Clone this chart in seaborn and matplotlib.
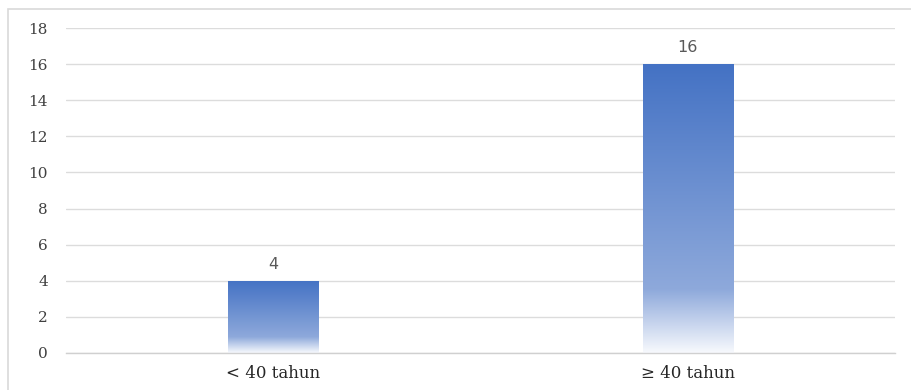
import numpy as np
import pandas as pd
import matplotlib
matplotlib.use("Agg")
import matplotlib.pyplot as plt
import seaborn as sns
from matplotlib.colors import LinearSegmentedColormap
from matplotlib.patches import Rectangle

categories = ["< 40 tahun", "\u2265 40 tahun"]
values = [4, 16]
yticks = [0, 2, 4, 6, 8, 10, 12, 14, 16, 18]

sns.set_theme(style="white")
plt.rcParams['font.family'] = ['DejaVu Serif', 'DejaVu Sans']

df = pd.DataFrame({"cat": categories, "val": values})

W, H = 911, 390
fig = plt.figure(figsize=(W / 100, H / 100), dpi=100)
ax = fig.add_axes([66 / W, 1 - 353 / H, (895 - 66) / W, (353 - 28) / H])

sns.barplot(data=df, x="cat", y="val", ax=ax, color="#4472C4", width=0.218,
            saturation=1, edgecolor="none")

ax.set_ylim(0, 18)
ax.set_xlim(-0.5, 1.5)
ax.set_yticks(yticks)
ax.set_xlabel("")
ax.set_ylabel("")
for s in ["top", "right", "left"]:
    ax.spines[s].set_visible(False)
ax.spines["bottom"].set_color("#D0D0D0")
ax.spines["bottom"].set_linewidth(1.0)
ax.yaxis.grid(True, color="#DCDCDC", linewidth=1.0)
ax.set_axisbelow(True)
ax.tick_params(axis="y", length=0, pad=13, labelsize=11, labelcolor="#404040")
ax.tick_params(axis="x", length=0, pad=9, labelsize=12, labelcolor="#262626")

cmap = LinearSegmentedColormap.from_list(
    "g", [(0.0, "#4472C4"), (0.78, "#8EA9DB"), (1.0, "#F7F9FD")])
grad = np.linspace(0, 1, 256).reshape(-1, 1)

for patch, v in zip(ax.patches, values):
    x0 = patch.get_x()
    w = patch.get_width()
    h = patch.get_height()
    patch.set_facecolor("none")
    im = ax.imshow(grad, cmap=cmap, aspect="auto", extent=[x0, x0 + w, 0, h],
                   origin="upper", zorder=2, interpolation="bilinear")
    im.set_clip_path(patch)
    ax.text(x0 + w / 2, h + 0.5, f"{v}", ha="center", va="bottom",
            fontsize=11.5, color="#595959", family=["DejaVu Sans"])

ax.set_xlim(-0.5, 1.5)
ax.set_ylim(0, 18)

frame = Rectangle((8 / W, -0.1), 1.2, 1 - 9 / H + 0.1, transform=fig.transFigure,
                  fill=False, edgecolor="#D9D9D9", linewidth=1.2, zorder=0)
fig.add_artist(frame)

fig.savefig("out.png", dpi=100)
